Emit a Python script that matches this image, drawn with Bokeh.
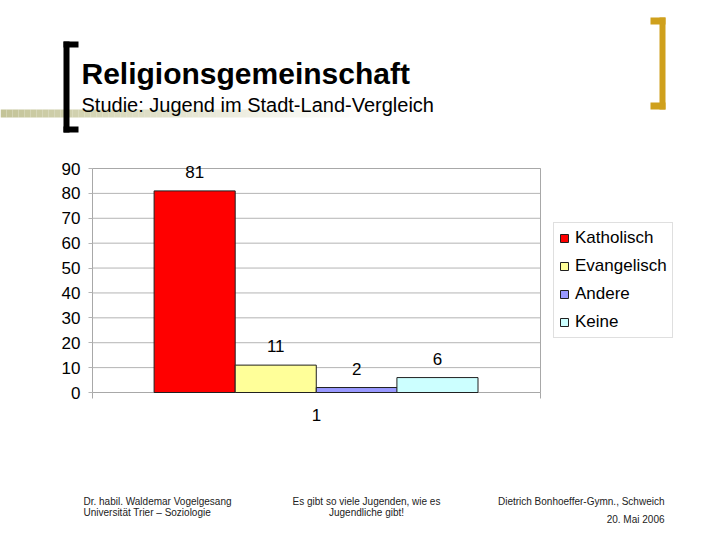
from bokeh.plotting import figure
from bokeh.models import Range1d, Legend, LegendItem, ColumnDataSource, FixedTicker
from bokeh.core.properties import value
from bokeh.embed import file_html
from bokeh.resources import INLINE

# ---- data ----
categories = ["1"]
series = ["Katholisch", "Evangelisch", "Andere", "Keine"]
values = [81, 11, 2, 6]
colors = ["#FF0000", "#FFFF99", "#9999FF", "#CCFFFF"]
offsets = [-0.272, -0.091, 0.090, 0.270]
y_ticks = [0, 10, 20, 30, 40, 50, 60, 70, 80, 90]
y_max = 90

title_text = "Religionsgemeinschaft"
subtitle_text = "Studie: Jugend im Stadt-Land-Vergleich"
footer_left = ["Dr. habil. Waldemar Vogelgesang", "Universität Trier – Soziologie"]
footer_mid = ["Es gibt so viele Jugenden, wie es", "Jugendliche gibt!"]
footer_right = ["Dietrich Bonhoeffer-Gymn., Schweich", "20. Mai 2006"]

FONT = "Liberation Sans"
W, H = 720, 540
# plot area placement on the slide (pixels)
PL, PR, PT, PB = 92, 540, 168, 392
CAT_POS = 0.5  # centre of the single category on the x axis

sx = (PR - PL)          # px per x unit (x domain 0..1)
sy = (PB - PT) / y_max  # px per y unit
x_range = Range1d(-PL / sx, 1 + (W - PR) / sx)
y_range = Range1d(-(H - PB) / sy, y_max + PT / sy)

p = figure(width=W, height=H, x_range=x_range, y_range=y_range,
           output_backend="svg", toolbar_location=None, min_border=0,
           background_fill_color="white", border_fill_color="white")
p.outline_line_color = None
p.grid.visible = False
p.extra_x_ranges = {"px": Range1d(0, W)}
p.extra_y_ranges = {"px": Range1d(H, 0)}

# ---- slide decoration ----
n = 62
seg = [i * 6 for i in range(n)]
p.quad(left=seg, right=[s + 6 for s in seg], top=[109] * n, bottom=[117] * n,
       fill_color="#c4c498", fill_alpha=[(1 - i / n) ** 1.2 for i in range(n)], line_color=None,
       x_range_name="px", y_range_name="px")
p.quad(left=[63, 63, 63], right=[69, 78, 78], top=[41, 41, 126], bottom=[132, 47, 132],
       fill_color="black", line_color=None, x_range_name="px", y_range_name="px")
p.quad(left=[659, 650, 650], right=[665, 665, 665], top=[17, 17, 102], bottom=[109, 24, 109],
       fill_color="#CFA01C", line_color=None, x_range_name="px", y_range_name="px")
p.text(x=[81], y=[73], text=[title_text], text_baseline="middle", text_font=value(FONT),
       text_font_size="30px", text_font_style="bold", text_color="black",
       x_range_name="px", y_range_name="px")
p.text(x=[81], y=[104], text=[subtitle_text], text_baseline="middle", text_font=value(FONT),
       text_font_size="20px", text_color="black", x_range_name="px", y_range_name="px")

fc = "#222222"
p.text(x=[83, 83], y=[501, 512], text=footer_left, text_baseline="middle",
       text_font=value(FONT), text_font_size="10px", text_color=fc,
       x_range_name="px", y_range_name="px")
p.text(x=[366, 366], y=[501, 512], text=footer_mid, text_baseline="middle", text_align="center",
       text_font=value(FONT), text_font_size="10px", text_color=fc,
       x_range_name="px", y_range_name="px")
p.text(x=[664, 664], y=[501, 519], text=footer_right, text_baseline="middle", text_align="right",
       text_font=value(FONT), text_font_size="10px", text_color=fc,
       x_range_name="px", y_range_name="px")

# ---- chart: grid, frame, category boundary ticks ----
p.segment(x0=[0] * len(y_ticks), x1=[1] * len(y_ticks), y0=y_ticks, y1=y_ticks,
          line_color="#b4b4b4", line_width=1)
p.quad(left=[0], right=[1], bottom=[0], top=[y_max], fill_color=None,
       line_color="#a8a8a8", line_width=1)
p.segment(x0=[0, 1], x1=[0, 1], y0=[0, 0], y1=[-6 / sy, -6 / sy],
          line_color="#a8a8a8", line_width=1)

# ---- axes, fixed at the plot area ----
p.yaxis.fixed_location = 0
p.yaxis.bounds = (0, y_max)
p.yaxis.ticker = FixedTicker(ticks=y_ticks)
p.yaxis.axis_line_color = None
p.yaxis.major_tick_line_color = "#b4b4b4"
p.yaxis.minor_tick_line_color = None
p.yaxis.major_tick_out = 4
p.yaxis.major_tick_in = 0
p.yaxis.major_label_standoff = 8
p.yaxis.major_label_text_font = FONT
p.yaxis.major_label_text_font_size = "17px"
p.yaxis.major_label_text_color = "black"

p.xaxis.fixed_location = 0
p.xaxis.bounds = (0, 1)
p.xaxis.ticker = FixedTicker(ticks=[CAT_POS])
p.xaxis.major_label_overrides = {CAT_POS: categories[0]}
p.xaxis.axis_line_color = None
p.xaxis.major_tick_line_color = None
p.xaxis.minor_tick_line_color = None
p.xaxis.major_tick_out = 0
p.xaxis.major_tick_in = 0
p.xaxis.major_label_standoff = 16
p.xaxis.major_label_text_font = FONT
p.xaxis.major_label_text_font_size = "17px"
p.xaxis.major_label_text_color = "black"

# ---- bars ----
items = []
for name, val, col, off in zip(series, values, colors, offsets):
    src = ColumnDataSource(dict(x=[CAT_POS + off], top=[val], lab=[str(val)]))
    r = p.vbar(x="x", top="top", width=0.181, source=src,
               fill_color=col, line_color="#202020", line_width=1)
    items.append(LegendItem(label=name, renderers=[r]))
    p.text(x="x", y="top", text="lab", source=src, text_align="center",
           text_baseline="middle", y_offset=-19, text_font_size="17px",
           text_color="black", text_font=value(FONT))

legend = Legend(items=items, location=(553, H - 338), padding=5, spacing=8, margin=0,
                label_height=20, glyph_height=10, glyph_width=10, label_standoff=6,
                label_text_font=FONT, label_text_font_size="17px", label_text_color="black",
                border_line_color="#c0c0c0", background_fill_color="white")
p.add_layout(legend, "center")

open("out.html", "w").write(file_html(p, INLINE))
